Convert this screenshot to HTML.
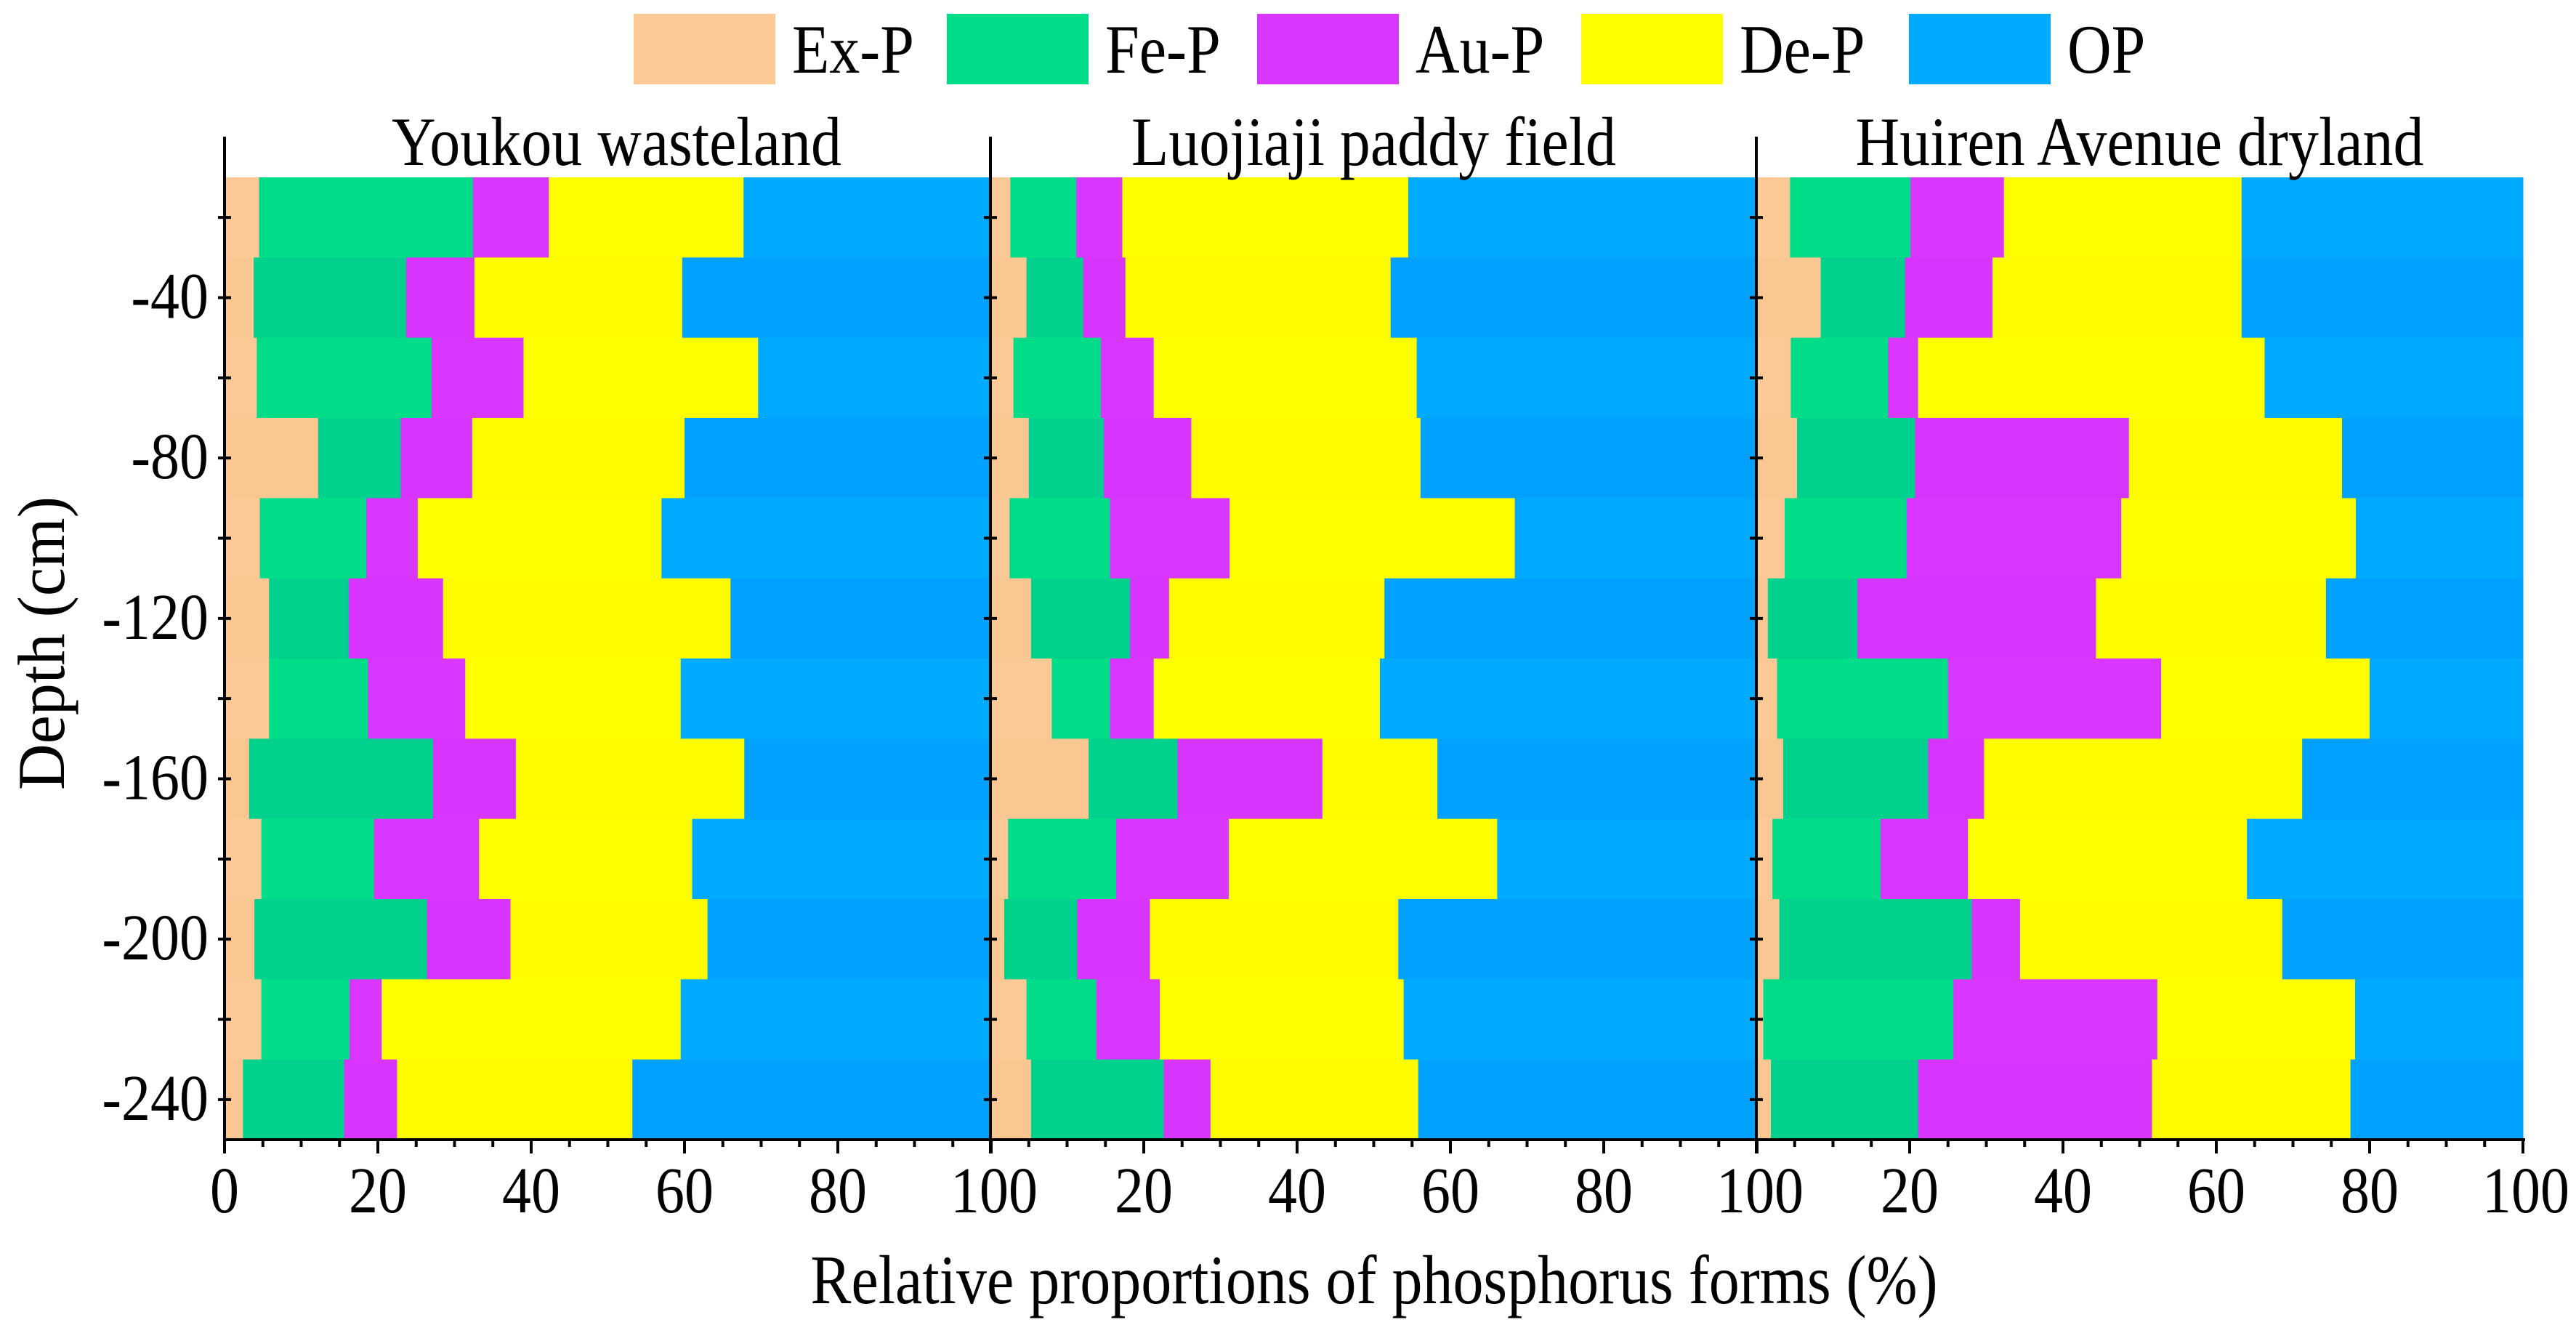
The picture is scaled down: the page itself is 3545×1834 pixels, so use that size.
<!DOCTYPE html>
<html><head><meta charset="utf-8"><style>
html,body{margin:0;padding:0;background:#fff;}
svg{display:block;}
svg text{font-family:"Liberation Serif","DejaVu Serif",serif;fill:#000;}
</style></head><body>
<svg id="chart" width="3545" height="1834" viewBox="0 0 3545 1834" xmlns="http://www.w3.org/2000/svg"></svg>
<script>
// ---- data ----
const panels = ["Youkou wasteland", "Luojiaji paddy field", "Huiren Avenue dryland"];
const seriesNames = ["Ex-P", "Fe-P", "Au-P", "De-P", "OP"];
const depths = [-20, -40, -60, -80, -100, -120, -140, -160, -180, -200, -220, -240];
// percentages per layer (OP = remainder)
const youkouEx = [4.5, 3.8, 4.2, 12.2, 4.6, 5.8, 5.8, 3.2, 4.8, 3.9, 4.8, 2.4];
const youkouFe = [27.9, 19.9, 22.8, 10.8, 13.9, 10.4, 12.9, 24.0, 14.7, 22.5, 11.5, 13.2];
const youkouAu = [9.9, 8.9, 12.0, 9.3, 6.7, 12.3, 12.7, 10.8, 13.7, 10.9, 4.2, 6.9];
const youkouDe = [25.4, 27.1, 30.6, 27.7, 31.8, 37.5, 28.1, 29.8, 27.8, 25.7, 39.0, 30.7];
const luoEx = [2.6, 4.7, 3.0, 5.0, 2.5, 5.3, 8.0, 12.8, 2.3, 1.8, 4.7, 5.3];
const luoFe = [8.6, 7.4, 11.4, 9.8, 13.1, 12.9, 7.6, 11.6, 14.1, 9.5, 9.1, 17.3];
const luoAu = [6.0, 5.5, 6.9, 11.4, 15.6, 5.1, 5.7, 18.9, 14.7, 9.5, 8.3, 6.1];
const luoDe = [37.3, 34.6, 34.3, 29.9, 37.2, 28.1, 29.5, 15.0, 35.0, 32.4, 31.8, 27.1];
const huiEx = [4.4, 8.4, 4.5, 5.3, 3.7, 1.5, 2.7, 3.5, 2.1, 3.0, 0.9, 1.9];
const huiFe = [15.7, 11.0, 12.7, 15.4, 15.9, 11.7, 22.3, 18.9, 14.1, 25.1, 24.8, 19.2];
const huiAu = [12.2, 11.4, 3.9, 27.9, 28.0, 31.1, 27.8, 7.3, 11.4, 6.3, 26.6, 30.5];
const huiDe = [31.0, 32.5, 45.2, 27.8, 30.6, 30.0, 27.2, 41.5, 36.4, 34.2, 25.8, 25.9];
const xTicks = [0, 20, 40, 60, 80, 100];
const yTicks = [-40, -80, -120, -160, -200, -240];

const panelData = [
  [youkouEx, youkouFe, youkouAu, youkouDe],
  [luoEx, luoFe, luoAu, luoDe],
  [huiEx, huiFe, huiAu, huiDe]
];

// ---- layout ----
const NS = "http://www.w3.org/2000/svg";
const svg = document.getElementById("chart");
const panelX0 = [309, 1363, 2417];
const panelW = 1055;
const plotTop = 244, plotBottom = 1568;
const depthTop = -10, depthBottom = -250;
const colorsA = ["#FBC995", "#00DD88", "#D936FF", "#FFFF00", "#00AAFF"];
const colorsB = ["#FAC793", "#00D18C", "#D734FD", "#FFFC00", "#00A1FF"];
const FONT = "Liberation Serif, DejaVu Serif, serif";

function xScale(p, v) { return panelX0[p] + v / 100 * panelW; }
function yScale(d) { return plotTop + (depthTop - d) / (depthTop - depthBottom) * (plotBottom - plotTop); }

function el(tag, attrs) {
  const e = document.createElementNS(NS, tag);
  for (const k in attrs) e.setAttribute(k, attrs[k]);
  svg.appendChild(e);
  return e;
}
function txt(s, x, y, size, anchor, extra) {
  const t = document.createElementNS(NS, "text");
  t.setAttribute("transform", "translate(" + x + "," + y + ") " + (extra || "scale(1,1.13)"));
  t.setAttribute("font-size", size);
  t.setAttribute("font-family", FONT);
  t.setAttribute("text-anchor", anchor);
  t.textContent = s;
  svg.appendChild(t);
  return t;
}

// ---- bars ----
for (let p = 0; p < 3; p++) {
  const d = panelData[p];
  for (let i = 0; i < depths.length; i++) {
    const yT = yScale(depths[i] + 10), yB = yScale(depths[i] - 10);
    let cum = 0;
    for (let s = 0; s < 5; s++) {
      const v = s < 4 ? d[s][i] : 100 - cum;
      const r = el("rect", {x: xScale(p, cum), y: yT, width: Math.max(0, xScale(p, cum + v) - xScale(p, cum)) + 0.5, height: yB - yT + 0.5, fill: (i % 2 ? colorsB : colorsA)[s]});
      
      
      cum += v;
    }
  }
}

// ---- axes ----
for (let p = 0; p < 3; p++) {
  const ax = el("line", {x1: panelX0[p], y1: 188, x2: panelX0[p], y2: plotBottom, stroke: "#000", "stroke-width": 4});
  
  
  for (let d = -20; d >= -240; d -= 20) {
    const t = el("line", {x1: panelX0[p] - 9, y1: yScale(d), x2: panelX0[p] + 9, y2: yScale(d), stroke: "#000", "stroke-width": 4});
    
    
  }
  for (let v = 0; v <= 100; v += 5) {
    const major = v % 20 === 0;
    const t = el("line", {x1: xScale(p, v), y1: plotBottom, x2: xScale(p, v), y2: plotBottom + (major ? 19 : 10), stroke: "#000", "stroke-width": 4});
    
    
  }
  for (const v of xTicks) {
    if (v === 0 && p > 0) continue;
    const t = txt(String(v), xScale(p, v) + (v === 100 ? 4 : 0), 1668, 80, "middle");
    
    
  }
  const title = txt(panels[p], panelX0[p] + panelW / 2 + (p === 0 ? 12 : 0), 227, 84, "middle");
  
  
}
const xa = el("line", {x1: 307, y1: plotBottom, x2: 3475, y2: plotBottom, stroke: "#000", "stroke-width": 4});



for (const d of yTicks) {
  const t = txt(String(d), 287, yScale(d) + 28, 80, "end");
  
  
}

const yt = txt("Depth (cm)", 88, 885, 84, "middle", "rotate(-90) scale(1.05,1.1)");


const xt = txt("Relative proportions of phosphorus forms (%)", 1891, 1793, 84, "middle");



// ---- legend ----
const legBoxX = [872, 1303, 1730, 2176, 2627];
for (let s = 0; s < 5; s++) {
  const r = el("rect", {x: legBoxX[s], y: 19, width: 195, height: 97, fill: colorsA[s]});
  
  
  const t = txt(seriesNames[s], legBoxX[s] + 218, 100, 84, "start");
  
  
}
</script>
</body></html>
